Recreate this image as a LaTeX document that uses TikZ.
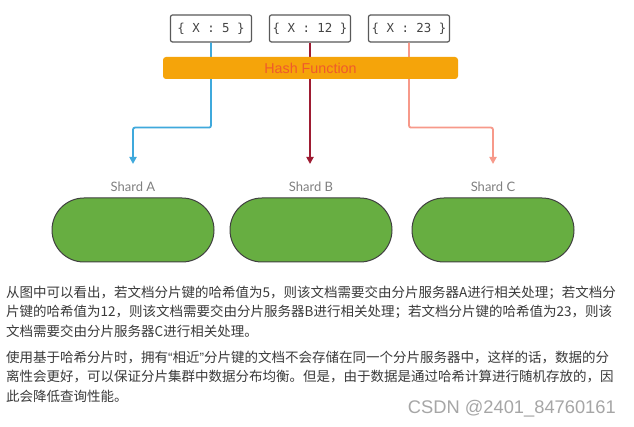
\documentclass[tikz,border=0pt]{standalone}
\usepackage{fontspec}
\setmainfont{Liberation Sans}
\newfontfamily\cjk{Noto Sans CJK SC}
\newfontfamily\latin{Liberation Sans}
\newfontfamily\shardfont{Lato}
\newfontfamily\keyfont{DejaVu Sans Mono}
\usepackage{tikz}
\usetikzlibrary{arrows.meta}

\definecolor{keygray}{HTML}{444444}
\definecolor{hashfill}{HTML}{F5A40A}
\definecolor{hashtext}{HTML}{EF5A2C}
\definecolor{lineA}{HTML}{3FA9DC}
\definecolor{lineB}{HTML}{9E1B32}
\definecolor{lineC}{HTML}{F7998A}
\definecolor{shardgreen}{HTML}{67AE41}
\definecolor{bodytext}{HTML}{3A3A3A}

\begin{document}
\begin{tikzpicture}[x=1pt,y=-1pt,
    keybox/.style={draw=black!65, line width=1.2pt, rounded corners=2pt, minimum width=81pt,
        minimum height=27pt, inner sep=0pt, text=keygray, font=\keyfont\fontsize{12.4}{13}\selectfont},
    hashbar/.style={fill=hashfill, rounded corners=3pt, minimum width=295pt, minimum height=22pt,
        inner sep=0pt, text=hashtext, font=\fontsize{14.3}{15}\selectfont},
    shardlabel/.style={inner sep=0pt, text=black!50, font=\shardfont\fontsize{13}{14}\selectfont},
    shardbox/.style={draw=black!75, fill=shardgreen, line width=1pt, minimum width=162pt,
        minimum height=64pt, rounded corners=32pt, inner sep=0pt},
    hashline/.style={line width=1.8pt, rounded corners=2pt, -{Triangle[length=7pt,width=7pt]}},
    bodyline/.style={anchor=west, inner sep=0pt, text=bodytext, font=\cjk\fontsize{13.5}{16}\selectfont}]

    \fill[white] (0,0) rectangle (634,427);
    \useasboundingbox (0,0) rectangle (634,427);

    % Schluessel
    \foreach \x/\wert/\id in {211/5/a, 310/12/b, 409/23/c}
    {
        \node[keybox] (key\id) at (\x,28.5) {\{ X : \wert{} \}};
    }

    % Shards
    \foreach \x/\id in {133/A, 311/B, 493/C}
    {
        \node[shardlabel] (lab\id) at (\x,186.5) {Shard \id};
        \node[shardbox] (shard\id) at (\x,230) {};
        \coordinate (tip\id) at (\x,164);
    }

    \draw[hashline, lineA] (keya.south) -- ++(0,85) -| (tipA);
    \draw[hashline, lineB] (keyb.south) -- (keyb.south |- tipB);
    \draw[hashline, lineC] (keyc.south) -- ++(0,85) -| (tipC);

    \node[hashbar] (hash) at (310.5,68) {Hash Function};

    % Text
    \node[bodyline] (p1a) at (6,292.5) {从图中可以看出，若文档分片键的哈希值为5，则该文档需要交由分片服务器A进行相关处理；若文档分};
    \node[bodyline] (p1b) at (6,312) {片键的哈希值为12，则该文档需要交由分片服务器B进行相关处理；若文档分片键的哈希值为23，则该};
    \node[bodyline] (p1c) at (6,331.5) {文档需要交由分片服务器C进行相关处理。};
    \node[bodyline] (p2a) at (6,358) {使用基于哈希分片时，拥有{\latin “}相近{\latin ”}分片键的文档不会存储在同一个分片服务器中，这样的话，数据的分};
    \node[bodyline] (p2b) at (6,377) {离性会更好，可以保证分片集群中数据分布均衡。但是，由于数据是通过哈希计算进行随机存放的，因};
    \node[bodyline] (p2c) at (6,396) {此会降低查询性能。};

    \node[anchor=east, inner sep=0pt, text=black!35, font=\fontsize{18.3}{20}\selectfont] (mark) at (616,409) {CSDN @2401\_84760161};
\end{tikzpicture}
\end{document}
